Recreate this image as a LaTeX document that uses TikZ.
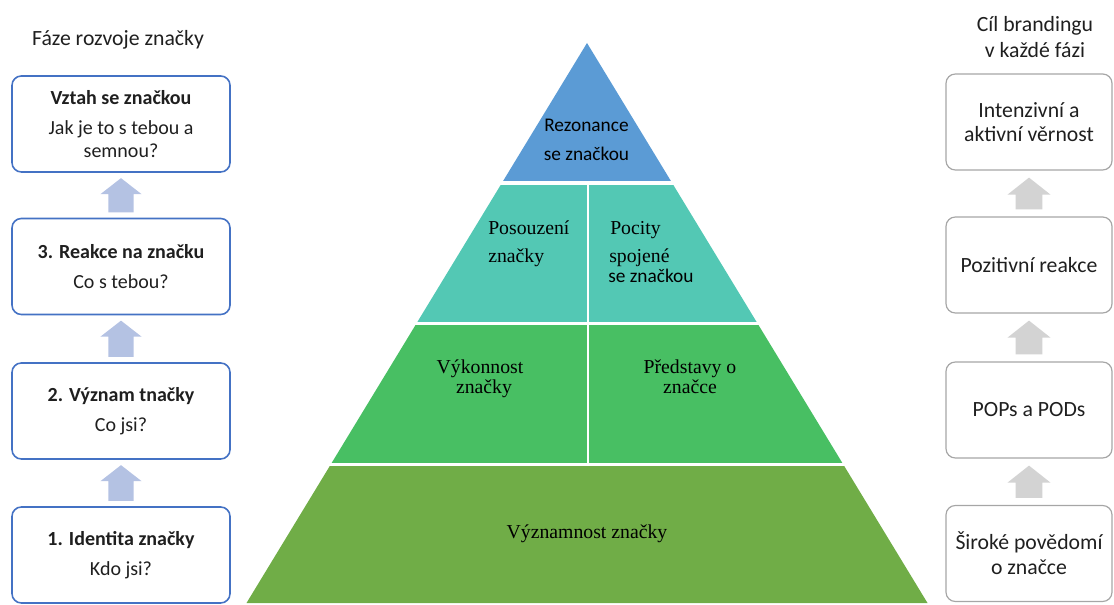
\documentclass[tikz,border=0pt]{standalone}
\usepackage{fontspec}
\setmainfont{Liberation Serif}
\newfontfamily\carlito{Carlito}
\usetikzlibrary{calc}

\definecolor{phaseblue}{HTML}{4472C4}
\definecolor{phasearrow}{HTML}{B4C2E3}
\definecolor{goalgray}{HTML}{A6A6A6}
\definecolor{goalarrow}{HTML}{D3D3D3}
\definecolor{tierA}{HTML}{5B9BD5}
\definecolor{tierB}{HTML}{53C8B4}
\definecolor{tierC}{HTML}{48BF63}
\definecolor{tierD}{HTML}{70AD47}
\definecolor{ink}{HTML}{1F1F1F}

\tikzset{
  sanstext/.style={font=\carlito\fontsize{15}{17}\selectfont, text=ink, align=center},
  bigsans/.style={font=\carlito\fontsize{16.3}{18.5}\selectfont, text=ink, align=center},
  phasebox/.style={sanstext, draw=phaseblue, line width=1.2pt, rounded corners=7pt,
    minimum width=163.5pt, minimum height=72pt, inner sep=0pt},
  goalbox/.style={bigsans, draw=goalgray, line width=0.9pt, rounded corners=7pt,
    minimum width=124.5pt, minimum height=72pt, inner sep=0pt},
  tierlabel/.style={font=\fontsize{14.8}{17}\selectfont, text=black, inner sep=0pt},
  tiersans/.style={font=\carlito\fontsize{14.5}{17}\selectfont, text=black, inner sep=0pt},
  gapline/.style={draw=white, line width=2.6pt},
}

% block arrow pointing up from #1 to #2
% #3 fill, #4 shaft half-width, #5 head half-width, #6 head length, #7 gap to boxes
\newcommand\stagearrow[7]{%
  \fill[#3] let \p1=(#1.north), \p2=(#2.south) in
    (\x2-#4,\y1+#7) -- (\x2-#4,\y2-#7-#6) -- (\x2-#5,\y2-#7-#6) -- (\x2,\y2-#7)
    -- (\x2+#5,\y2-#7-#6) -- (\x2+#4,\y2-#7-#6) -- (\x2+#4,\y1+#7) -- cycle;}

\begin{document}
\begin{tikzpicture}[x=0.75pt, y=-0.75pt]
\useasboundingbox (0,0) rectangle (1114,605);

% ---- phases of brand development ----
\node[bigsans] (phasetitle) at (118,40) {Fáze rozvoje značky};
\node[phasebox] (p4) at (121,124) {\textbf{Vztah se značkou}\\[5.5pt]Jak je to s tebou a\\semnou?};
\node[phasebox] (p3) at (121,266.5) {\textbf{3. Reakce na značku}\\[5.5pt]Co s tebou?};
\node[phasebox] (p2) at (121,411) {\textbf{2. Význam tnačky}\\[5.5pt]Co jsi?};
\node[phasebox] (p1) at (121,555) {\textbf{1. Identita značky}\\[5.5pt]Kdo jsi?};

\stagearrow{p1}{p2}{phasearrow}{9.4pt}{15.4pt}{12pt}{4pt}
\stagearrow{p2}{p3}{phasearrow}{9.4pt}{15.4pt}{12pt}{4pt}
\stagearrow{p3}{p4}{phasearrow}{9.4pt}{15.4pt}{12pt}{4pt}

% ---- branding goals ----
\node[bigsans] (goaltitle) at (1035,37.5) {Cíl brandingu\\[1pt]v každé fázi};
\node[goalbox] (g4) at (1029,122) {Intenzivní a\\aktivní věrnost};
\node[goalbox] (g3) at (1029,265) {Pozitivní reakce};
\node[goalbox] (g2) at (1029,410) {POPs a PODs};
\node[goalbox] (g1) at (1029,553.5) {Široké povědomí\\o značce};

\stagearrow{g1}{g2}{goalarrow}{10.1pt}{16.1pt}{12.75pt}{5.25pt}
\stagearrow{g2}{g3}{goalarrow}{10.1pt}{16.1pt}{12.75pt}{5.25pt}
\stagearrow{g3}{g4}{goalarrow}{10.1pt}{16.1pt}{12.75pt}{5.25pt}

% ---- brand pyramid ----
\coordinate (apex) at (587,43);
\coordinate (bl) at (246.5,603);
\coordinate (br) at (927.5,603);
\coordinate (l1) at ($(apex)!0.25!(bl)$);   \coordinate (r1) at ($(apex)!0.25!(br)$);
\coordinate (l2) at ($(apex)!0.501!(bl)$);  \coordinate (r2) at ($(apex)!0.501!(br)$);
\coordinate (l3) at ($(apex)!0.7527!(bl)$); \coordinate (r3) at ($(apex)!0.7527!(br)$);

\fill[tierA] (apex) -- (r1) -- (l1) -- cycle;
\fill[tierB] (l1) -- (r1) -- (r2) -- (l2) -- cycle;
\fill[tierC] (l2) -- (r2) -- (r3) -- (l3) -- cycle;
\fill[tierD] (l3) -- (r3) -- (br) -- (bl) -- cycle;

\draw[gapline] ($(l1)+(-6,0)$) -- ($(r1)+(6,0)$);
\draw[gapline] ($(l2)+(-6,0)$) -- ($(r2)+(6,0)$);
\draw[gapline] ($(l3)+(-6,0)$) -- ($(r3)+(6,0)$);
\draw[draw=white, line width=2.2pt] (588,183) -- (588,465);

% pyramid labels
\node[tiersans, anchor=base] (res1) at (586.5,132) {Rezonance};
\node[tiersans, anchor=base] (res2) at (586.5,161) {se značkou};
\node[tierlabel, anchor=base west] (jud1) at (488,235) {Posouzení};
\node[tierlabel, anchor=base west] (jud2) at (488,263) {značky};
\node[tierlabel, anchor=base west] (fee1) at (610,235) {Pocity};
\node[tierlabel, anchor=base west] (fee2) at (609,263) {spojené};
\node[tiersans, anchor=base west] (fee3) at (608,283) {se značkou};
\node[tierlabel, anchor=base] (per1) at (480,374) {Výkonnost};
\node[tierlabel, anchor=base] (per2) at (484,394) {značky};
\node[tierlabel, anchor=base] (ima1) at (690,374) {Představy o};
\node[tierlabel, anchor=base] (ima2) at (690,394) {značce};
\node[tierlabel, anchor=base] (sal) at (587,539) {Významnost značky};
\end{tikzpicture}
\end{document}
